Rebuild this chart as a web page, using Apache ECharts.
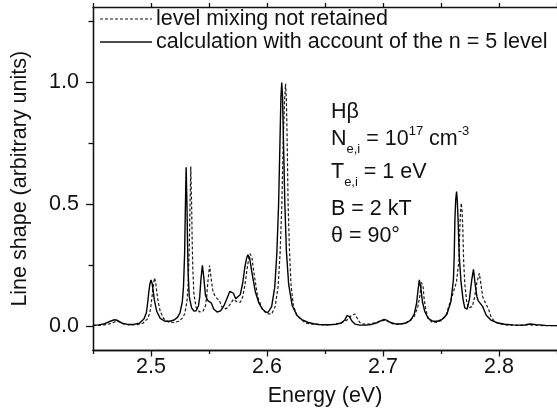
<!DOCTYPE html>
<html><head><meta charset="utf-8">
<script src="https://cdn.jsdelivr.net/npm/echarts@6/dist/echarts.min.js"></script>
<style>html,body{margin:0;padding:0;background:#fff}#c{width:557px;height:415px}</style>
</head><body><div id="c"></div>
<script>
// ---- data ----
const xLabels = [2.5, 2.6, 2.7, 2.8];
const xMinorTicks = [2.45, 2.55, 2.65, 2.75, 2.85];
const yLabels = [0.0, 0.5, 1.0];
const yMinorTicks = [0.25, 0.75, 1.25];

// solid: calculation with account of the n = 5 level
const solidE = [2.450,2.455,2.460,2.465,2.468,2.471,2.475,2.480,2.485,2.490,2.494,2.496,2.497,2.498,2.499,2.500,2.501,2.502,2.503,2.505,2.508,2.512,2.516,2.520,2.523,2.525,2.527,2.528,2.529,2.5295,2.5303,2.531,2.5315,2.532,2.533,2.535,2.537,2.539,2.541,2.542,2.543,2.5443,2.5455,2.547,2.549,2.5505,2.552,2.554,2.557,2.560,2.563,2.566,2.568,2.5693,2.571,2.573,2.5747,2.577,2.579,2.581,2.5825,2.5835,2.585,2.587,2.590,2.593,2.596,2.599,2.601,2.604,2.6067,2.6085,2.610,2.6112,2.612,2.6127,2.6134,2.6142,2.6154,2.6167,2.6187,2.6217,2.6257,2.630,2.635,2.640,2.645,2.650,2.655,2.660,2.664,2.667,2.669,2.670,2.671,2.673,2.676,2.680,2.685,2.690,2.695,2.699,2.701,2.703,2.706,2.710,2.715,2.720,2.724,2.727,2.729,2.730,2.7313,2.7325,2.734,2.736,2.739,2.743,2.747,2.751,2.755,2.7585,2.7607,2.7614,2.762,2.7627,2.7634,2.764,2.7647,2.7657,2.7672,2.769,2.7705,2.7725,2.7745,2.7765,2.778,2.7795,2.781,2.782,2.7835,2.786,2.789,2.793,2.798,2.805,2.812,2.818,2.822,2.824,2.827,2.832,2.840,2.850];
const solidV = [0.003,0.005,0.010,0.020,0.026,0.024,0.012,0.007,0.007,0.012,0.030,0.055,0.090,0.135,0.172,0.190,0.175,0.140,0.105,0.060,0.032,0.020,0.020,0.025,0.037,0.055,0.100,0.160,0.300,0.450,0.652,0.500,0.340,0.220,0.120,0.075,0.062,0.063,0.085,0.120,0.190,0.250,0.200,0.125,0.105,0.110,0.095,0.070,0.058,0.063,0.085,0.120,0.143,0.150,0.135,0.112,0.107,0.130,0.175,0.245,0.280,0.293,0.280,0.220,0.140,0.095,0.070,0.058,0.057,0.080,0.160,0.300,0.500,0.760,0.940,1.000,0.940,0.760,0.500,0.310,0.170,0.085,0.045,0.027,0.016,0.010,0.007,0.006,0.006,0.008,0.013,0.025,0.043,0.048,0.040,0.022,0.008,0.004,0.004,0.007,0.014,0.024,0.028,0.025,0.016,0.010,0.009,0.013,0.025,0.050,0.095,0.140,0.190,0.160,0.100,0.060,0.032,0.020,0.020,0.028,0.048,0.100,0.190,0.290,0.440,0.520,0.552,0.520,0.440,0.290,0.185,0.110,0.075,0.070,0.110,0.190,0.233,0.170,0.120,0.105,0.105,0.080,0.045,0.025,0.014,0.008,0.005,0.004,0.004,0.007,0.009,0.006,0.003,0.002,0.002];

// dashed: level mixing not retained
const dashedE = [2.450,2.460,2.465,2.470,2.473,2.477,2.482,2.488,2.493,2.497,2.499,2.500,2.501,2.502,2.503,2.504,2.505,2.506,2.508,2.511,2.515,2.520,2.524,2.527,2.529,2.531,2.532,2.533,2.5335,2.5343,2.535,2.5355,2.536,2.537,2.539,2.542,2.545,2.547,2.548,2.549,2.5505,2.552,2.5535,2.5555,2.557,2.559,2.561,2.563,2.566,2.569,2.571,2.574,2.577,2.579,2.581,2.583,2.5845,2.5855,2.587,2.589,2.592,2.596,2.600,2.604,2.607,2.6095,2.6113,2.6128,2.614,2.6152,2.616,2.6167,2.6174,2.6182,2.6194,2.6207,2.6227,2.6257,2.6297,2.634,2.640,2.645,2.650,2.657,2.664,2.669,2.673,2.676,2.677,2.678,2.680,2.683,2.688,2.693,2.698,2.702,2.705,2.708,2.712,2.717,2.722,2.727,2.730,2.732,2.733,2.734,2.7345,2.7355,2.737,2.739,2.742,2.746,2.750,2.754,2.758,2.7633,2.7655,2.7662,2.7668,2.7675,2.7682,2.7688,2.7695,2.7705,2.772,2.7735,2.775,2.777,2.779,2.781,2.783,2.7845,2.786,2.788,2.7895,2.791,2.793,2.796,2.800,2.806,2.815,2.822,2.826,2.830,2.840,2.850];
const dashedV = [0.002,0.005,0.010,0.020,0.017,0.008,0.005,0.006,0.012,0.030,0.055,0.085,0.125,0.165,0.198,0.180,0.140,0.105,0.060,0.030,0.017,0.015,0.020,0.033,0.050,0.100,0.170,0.320,0.460,0.655,0.500,0.350,0.240,0.130,0.075,0.058,0.062,0.085,0.120,0.180,0.249,0.190,0.140,0.120,0.123,0.105,0.080,0.070,0.075,0.095,0.110,0.100,0.098,0.120,0.170,0.240,0.285,0.297,0.280,0.210,0.120,0.070,0.050,0.050,0.080,0.160,0.300,0.500,0.760,0.935,0.995,0.935,0.760,0.500,0.310,0.170,0.085,0.045,0.025,0.012,0.008,0.006,0.005,0.007,0.013,0.025,0.045,0.050,0.045,0.030,0.015,0.008,0.008,0.014,0.022,0.024,0.018,0.010,0.007,0.010,0.020,0.040,0.080,0.130,0.180,0.182,0.165,0.110,0.065,0.032,0.017,0.015,0.022,0.040,0.100,0.180,0.270,0.400,0.470,0.505,0.470,0.400,0.270,0.175,0.105,0.075,0.068,0.080,0.120,0.180,0.217,0.170,0.120,0.098,0.095,0.070,0.040,0.020,0.010,0.005,0.003,0.004,0.006,0.004,0.002,0.002];

const seriesNames = ['level mixing not retained', 'calculation with account of the n = 5 level'];

// ---- chart ----
const FONT = '"Liberation Sans", Arial, sans-serif';
const INK = '#111';
const FS = 21.5;
const chart = echarts.init(document.getElementById('c'), null, {renderer: 'canvas'});
const zip = (a, b) => a.map((e, i) => [e, b[i]]);

function xAxisDef(pos, ticks, len, withLabels) {
  return {
    type: 'value', min: 2.45, max: 2.85, position: pos, gridIndex: 0,
    axisLine: {show: true, onZero: false, lineStyle: {color: INK, width: 1.3}},
    axisTick: {show: true, inside: false, length: len, customValues: ticks, lineStyle: {color: INK, width: 1.3}},
    axisLabel: withLabels ? {show: true, customValues: xLabels, formatter: v => v.toFixed(1), fontSize: FS, fontFamily: FONT, color: INK, margin: 6} : {show: false},
    splitLine: {show: false},
    name: withLabels ? 'Energy (eV)' : '', nameLocation: 'middle', nameGap: 35,
    nameTextStyle: {fontSize: FS, fontFamily: FONT, color: INK}
  };
}
function yAxisDef(ticks, len, withLabels) {
  return {
    type: 'value', min: -0.1, max: 1.31, position: 'left', gridIndex: 0,
    axisLine: {show: true, onZero: false, lineStyle: {color: INK, width: 1.3}},
    axisTick: {show: true, inside: false, length: len, customValues: ticks, lineStyle: {color: INK, width: 1.3}},
    axisLabel: withLabels ? {show: true, customValues: yLabels, formatter: v => v.toFixed(1), fontSize: FS, fontFamily: FONT, color: INK, margin: 14} : {show: false},
    splitLine: {show: false},
    name: withLabels ? 'Line shape (arbitrary units)' : '', nameLocation: 'middle', nameGap: 62,
    nameTextStyle: {fontSize: FS, fontFamily: FONT, color: INK}
  };
}

const option = {
  animation: false,
  backgroundColor: '#fff',
  grid: {left: 93, right: -5, top: 7, bottom: 64.5},
  xAxis: [
    xAxisDef('bottom', xLabels, 6, true),
    xAxisDef('bottom', xMinorTicks, 3.5, false),
    xAxisDef('top', xLabels.concat(xMinorTicks), 4, false)
  ],
  yAxis: [
    yAxisDef(yLabels, 7, true),
    yAxisDef(yMinorTicks, 4.5, false)
  ],
  series: [
    {name: seriesNames[0], type: 'line', xAxisIndex: 0, yAxisIndex: 0, data: zip(dashedE, dashedV), showSymbol: false, symbol: 'none',
     lineStyle: {color: '#1a1a1a', width: 1.2, type: [3, 2]}, z: 2},
    {name: seriesNames[1], type: 'line', xAxisIndex: 0, yAxisIndex: 0, data: zip(solidE, solidV), showSymbol: false, symbol: 'none',
     lineStyle: {color: '#000', width: 1.4, type: 'solid'}, z: 3}
  ]
};
chart.setOption(option);

// ---- legend + annotation block (graphic) ----
const mctx = document.createElement('canvas').getContext('2d');
function tw(s, size) { mctx.font = size + 'px ' + FONT; return mctx.measureText(s).width; }
const parts = [];
// legend
[[seriesNames[0], [3, 2], 1.2, 19], [seriesNames[1], null, 1.4, 42]].forEach(([name, dash, w, y]) => {
  parts.push({type: 'line', shape: {x1: 100, y1: y, x2: 152, y2: y}, style: {stroke: '#111', lineWidth: w, lineDash: dash}});
  parts.push({type: 'text', x: 156, y: y, style: {text: name, fontSize: FS, fontFamily: FONT, fill: INK, verticalAlign: 'middle', align: 'left'}});
});
// annotation
const AX = 331, SM = 13;
function line(y, segs) {
  let x = AX;
  segs.forEach(s => {
    const size = s.k === 'n' ? FS : SM;
    const dy = s.k === 'sub' ? 10 : (s.k === 'sup' ? -8 : 0);
    parts.push({type: 'text', x: x, y: y + dy, style: {text: s.t, fontSize: size, fontFamily: FONT, fill: INK, verticalAlign: 'middle', align: 'left'}});
    x += tw(s.t, size);
  });
}
line(112, [{k: 'n', t: 'Hβ'}]);
line(139, [{k: 'n', t: 'N'}, {k: 'sub', t: 'e,i'}, {k: 'n', t: ' = 10'}, {k: 'sup', t: '17'}, {k: 'n', t: ' cm'}, {k: 'sup', t: '-3'}]);
line(172, [{k: 'n', t: 'T'}, {k: 'sub', t: 'e,i'}, {k: 'n', t: ' = 1 eV'}]);
line(209, [{k: 'n', t: 'B = 2 kT'}]);
line(236, [{k: 'n', t: 'θ = 90°'}]);
chart.setOption({graphic: parts});
</script></body></html>
